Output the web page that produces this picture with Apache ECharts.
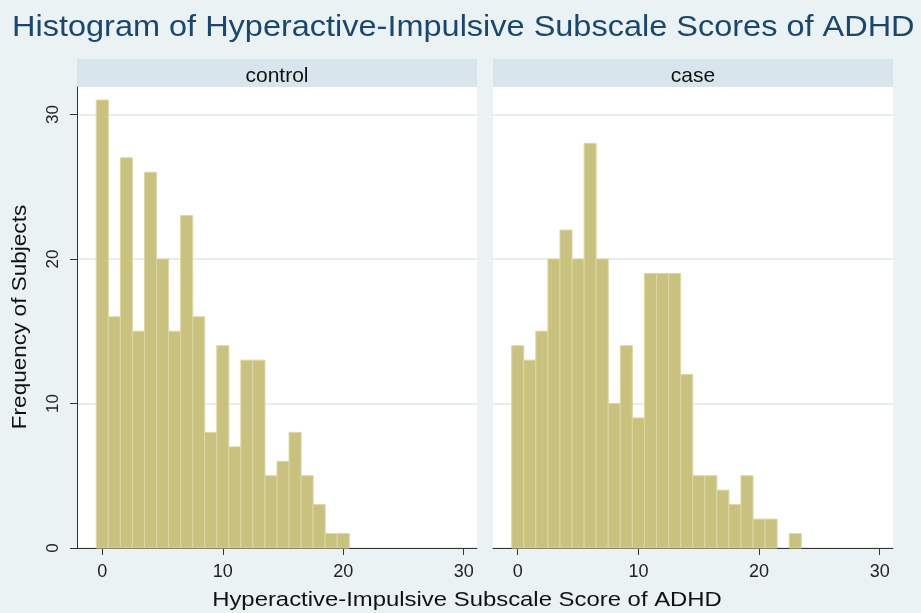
<!DOCTYPE html>
<html><head><meta charset="utf-8">
<script src="https://cdn.jsdelivr.net/npm/echarts@6/dist/echarts.min.js"></script>
<style>html,body{margin:0;padding:0;background:#eaf2f3}#c{width:921px;height:613px}</style>
</head><body><div id="c"></div>
<script>
// ---- data ----
const chartTitle = 'Histogram of Hyperactive-Impulsive Subscale Scores of ADHD';
const xAxisTitle = 'Hyperactive-Impulsive Subscale Score of ADHD';
const yAxisTitle = 'Frequency of Subjects';
const panelNames = ['control', 'case'];
const controlScores = [0,1,2,3,4,5,6,7,8,9,10,11,12,13,14,15,16,17,18,19,20];
const controlCounts = [31,16,27,15,26,20,15,23,16,8,14,7,13,13,5,6,8,5,3,1,1];
const caseScores = [0,1,2,3,4,5,6,7,8,9,10,11,12,13,14,15,16,17,18,19,20,21,22,23];
const caseCounts = [14,13,15,20,22,20,28,20,10,14,9,19,19,19,12,5,5,4,3,5,2,2,0,1];
const xTickLabels = [0,10,20,30];
const yTickLabels = [0,10,20,30];

// ---- chart ----
const FONT = '"Liberation Sans", Arial, sans-serif';
const BAR_FILL = '#c9c27f';
const BAR_EDGE = '#dcd7a3';
const AXIS_COLOR = '#333333';
const GRID_COLOR = '#dde8ed';

const panels = [
  { name: panelNames[0], scores: controlScores, counts: controlCounts, left: 77, min: -2.1 },
  { name: panelNames[1], scores: caseScores, counts: caseCounts, left: 493, min: -2.05 }
];
const PANEL_W = 400, PLOT_TOP = 87, PLOT_BOTTOM = 548, HEADER_TOP = 59;

function renderBar(params, api) {
  const x = api.value(0), y = api.value(1);
  if (!y) return null;
  const p0 = api.coord([x - 0.5, y]);
  const p1 = api.coord([x + 0.5, 0]);
  return {
    type: 'rect',
    shape: { x: p0[0], y: p0[1], width: p1[0] - p0[0], height: p1[1] - p0[1] },
    style: { fill: BAR_FILL, stroke: BAR_EDGE, lineWidth: 1 }
  };
}

const grids = [], xAxes = [], yAxes = [], series = [], graphics = [];
panels.forEach((p, i) => {
  grids.push({ left: p.left, top: PLOT_TOP, width: PANEL_W, height: PLOT_BOTTOM - PLOT_TOP,
               backgroundColor: '#ffffff', show: true, borderWidth: 0 });
  xAxes.push({
    type: 'value', gridIndex: i, min: p.min, max: 31.1,
    axisLine: { show: true, onZero: false, lineStyle: { color: AXIS_COLOR, width: 1 } },
    axisTick: { show: true, length: 7, customValues: xTickLabels, lineStyle: { color: AXIS_COLOR } },
    axisLabel: { show: true, customValues: xTickLabels, margin: 15, fontSize: 18, color: '#222',
                 fontFamily: FONT },
    splitLine: { show: false }
  });
  yAxes.push({
    type: 'value', gridIndex: i, min: 0, max: 31.9, interval: 10,
    axisLine: { show: i === 0, onZero: false, lineStyle: { color: AXIS_COLOR, width: 1 } },
    axisTick: { show: i === 0, length: 7, customValues: yTickLabels, lineStyle: { color: AXIS_COLOR } },
    axisLabel: { show: i === 0, rotate: 90, margin: 15, fontSize: 17, color: '#222', fontFamily: FONT,
                 customValues: yTickLabels },
    splitLine: { show: true, lineStyle: { color: GRID_COLOR, width: 1.5 } }
  });
  series.push({
    type: 'custom', xAxisIndex: i, yAxisIndex: i,
    renderItem: renderBar,
    encode: { x: 0, y: 1 },
    data: p.scores.map((s, k) => [s, p.counts[k]])
  });
  graphics.push({
    type: 'group', left: p.left, top: HEADER_TOP,
    children: [
      { type: 'rect', shape: { x: 0, y: 0, width: PANEL_W, height: PLOT_TOP - HEADER_TOP },
        style: { fill: '#d9e5ec' } },
      { type: 'text', x: PANEL_W / 2, y: 17,
        style: { text: p.name, fill: '#111', font: '21px ' + FONT, textAlign: 'center', textVerticalAlign: 'middle' } }
    ]
  });
});

// titles (stretched slightly to match the reference text widths)
graphics.push({
  type: 'text', x: 12, y: 28, scaleX: 1.12,
  style: { text: chartTitle, fill: '#1a476f', font: '29px ' + FONT, textAlign: 'left', textVerticalAlign: 'middle' }
});
graphics.push({
  type: 'text', x: 467, y: 600, scaleX: 1.165,
  style: { text: xAxisTitle, fill: '#111', font: '20.5px ' + FONT, textAlign: 'center', textVerticalAlign: 'middle' }
});
graphics.push({
  type: 'text', x: 20, y: 317, rotation: Math.PI / 2, scaleX: 1.10,
  style: { text: yAxisTitle, fill: '#111', font: '20.5px ' + FONT, textAlign: 'center', textVerticalAlign: 'middle' }
});

const chart = echarts.init(document.getElementById('c'), null, { renderer: 'canvas' });
chart.setOption({
  backgroundColor: '#eaf2f3',
  animation: false,
  grid: grids,
  xAxis: xAxes,
  yAxis: yAxes,
  series: series,
  graphic: graphics
});
</script>
</body></html>
